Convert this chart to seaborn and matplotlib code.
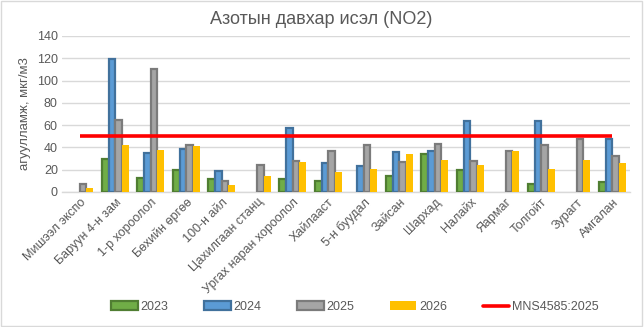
import numpy as np
import pandas as pd
import matplotlib
matplotlib.use("Agg")
import matplotlib.pyplot as plt
import seaborn as sns
from matplotlib.patches import Rectangle, Patch
from matplotlib.lines import Line2D

categories = ["Мишээл экспо", "Баруун 4-н зам", "1-р хороолол", "Бөхийн өргөө",
              "100-н айл", "Цахилгаан станц", "Ургах наран хороолол", "Хайлааст",
              "5-н буудал", "Зайсан", "Шархад", "Налайх", "Яармаг", "Толгойт",
              "Зурагт", "Амгалан"]
nan = np.nan
v2023 = [nan, 30, 13, 20, 12, nan, 12, 10, nan, 14, 34, 20, nan, 7, nan, 9]
v2024 = [nan, 119, 35, 39, 19, nan, 57, 26, 23, 36, 37, 64, nan, 64, nan, 48]
v2025 = [7, 65, 110, 42, 10, 24, 28, 37, 42, 27, 43, 28, 37, 42, 48, 32]
v2026 = [4, 42, 38, 41, 6, 14, 27, 18, 21, 34, 29, 24, 37, 21, 29, 26]
years = ["2023", "2024", "2025", "2026"]
standard_value = 50
standard_label = "MNS4585:2025"
title = "Азотын давхар исэл (NO2)"
ylabel = "агуулламж, мкг/м3"

face = {"2023": "#70AD47", "2024": "#5B9BD5", "2025": "#A5A5A5", "2026": "#FFC000"}
edge = {"2023": "#507E32", "2024": "#41719C", "2025": "#7B7B7B", "2026": "#FFC000"}

rows = []
for yr, vals in zip(years, [v2023, v2024, v2025, v2026]):
    for c, v in zip(categories, vals):
        rows.append({"station": c, "year": yr, "value": v})
df = pd.DataFrame(rows)

sns.set_theme(style="white")
plt.rcParams["font.family"] = ["Liberation Sans", "DejaVu Sans"]

fig = plt.figure(figsize=(6.44, 3.27), dpi=100)
ax = fig.add_axes([62/644, (327-192)/327, (630-62)/644, (192-36)/327])

sns.barplot(data=df, x="station", y="value", hue="year", order=categories,
            hue_order=years, palette=face, width=0.76, gap=0,
            errorbar=None, ax=ax, legend=False, zorder=3)

for cont, yr in zip(ax.containers, years):
    for p in cont:
        p.set_facecolor(face[yr])
        p.set_edgecolor(edge[yr])
        p.set_linewidth(1.6 if yr != "2026" else 0)

x = np.arange(len(categories))
ax.plot(x, [standard_value]*len(categories), color="#FF0000", lw=2.6, zorder=4,
        solid_capstyle="butt")

ax.set_xlim(-0.5, len(categories)-0.5)
ax.set_ylim(0, 140)
ax.set_yticks(np.arange(0, 141, 20))
ax.yaxis.grid(True, color="#D9D9D9", lw=1)
ax.set_axisbelow(True)
for s in ["top", "right", "left"]:
    ax.spines[s].set_visible(False)
ax.spines["bottom"].set_color("#D9D9D9")
ax.spines["bottom"].set_linewidth(1)
ax.tick_params(axis="both", length=0, labelsize=9, colors="#595959", pad=3)
ax.set_xticks(x)
ax.set_xticklabels(categories, rotation=45, ha="right", va="top",
                   rotation_mode="anchor")
ax.set_xlabel("")
ax.set_ylabel(ylabel, fontsize=9.5, color="#595959", labelpad=4)
fig.text(321/644, 1-20/327, title, ha="center", va="center", fontsize=13,
         color="#595959")

handles = [Patch(facecolor=face[y], edgecolor=edge[y], linewidth=1.6 if y != "2026" else 0)
           for y in years]
handles.append(Line2D([0], [0], color="#FF0000", lw=2.6))
leg = fig.legend(handles, years + [standard_label], loc="center",
                 bbox_to_anchor=(355/644, 1-307/327), ncol=5, frameon=False,
                 fontsize=9, handlelength=2.1, handleheight=0.65,
                 columnspacing=2.9, handletextpad=0.2, labelcolor="#595959")

fig.patches.append(Rectangle((0.002, 0.003), 0.995, 0.994, transform=fig.transFigure,
                             fill=False, edgecolor="#D9D9D9", lw=1))
fig.savefig("out.png", dpi=100)
